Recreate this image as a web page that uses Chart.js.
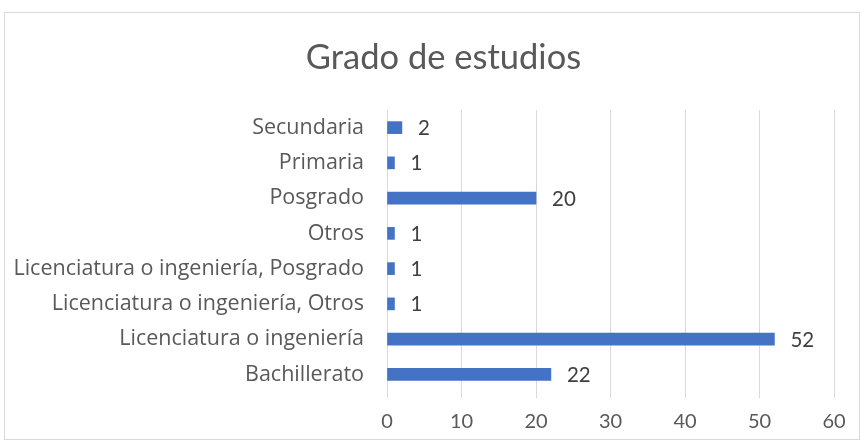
<!DOCTYPE html>
<html>
<head>
<meta charset="utf-8">
<script src="https://cdn.jsdelivr.net/npm/chart.js@4"></script>
<style>
  body { margin: 0; background: #fff; }
  #box { position: absolute; left: 4px; top: 12px; width: 854px; height: 426px; border: 1px solid #d9d9d9; }
</style>
</head>
<body>
<div id="box"><canvas id="gradoChart" width="854" height="426"></canvas></div>
<script>
// Grado de estudios
const categories = ['Secundaria', 'Primaria', 'Posgrado', 'Otros', 'Licenciatura o ingeniería, Posgrado', 'Licenciatura o ingeniería, Otros', 'Licenciatura o ingeniería', 'Bachillerato'];
const counts = [2, 1, 20, 1, 1, 1, 52, 22];
const xTicks = [0, 10, 20, 30, 40, 50, 60];
const chartTitle = 'Grado de estudios';

const FONT = 'Lato';

// values next to each bar
const barLabels = {
    id: 'barLabels',
    afterDatasetsDraw(chart) {
        const ctx = chart.ctx;
        const meta = chart.getDatasetMeta(0);
        ctx.save();
        ctx.font = '20.5px ' + FONT;
        ctx.fillStyle = '#404040';
        ctx.textBaseline = 'middle';
        ctx.textAlign = 'left';
        meta.data.forEach((bar, i) => {
            ctx.fillText(String(counts[i]), bar.x + 16, bar.y + 1);
        });
        ctx.restore();
    }
};

// title sits a bit right of centre in the original, so draw it by hand
const titleText = {
    id: 'titleText',
    afterDraw(chart) {
        const ctx = chart.ctx;
        ctx.save();
        ctx.font = '34.5px ' + FONT;
        ctx.fillStyle = '#595959';
        ctx.textAlign = 'center';
        ctx.textBaseline = 'alphabetic';
        ctx.fillText(chartTitle, 438.5, 56);
        ctx.restore();
    }
};

const ctx = document.getElementById('gradoChart').getContext('2d');
const gradoChart = new Chart(ctx, {
    type: 'bar',
    data: {
        labels: categories,
        datasets: [{
            data: counts,
            backgroundColor: '#4472c4',
            barThickness: 12
        }]
    },
    options: {
        indexAxis: 'y',
        responsive: false,
        animation: false,
        layout: { padding: { left: 0, right: 25, top: 97, bottom: 0 } },
        plugins: {
            legend: { display: false },
            tooltip: { enabled: false },
            title: { display: false }
        },
        scales: {
            x: {
                min: 0,
                max: 60,
                afterBuildTicks: scale => { scale.ticks = xTicks.map(v => ({ value: v })); },
                afterFit: scale => { scale.height = 47; },
                grid: { color: '#d9d9d9', lineWidth: 1, tickLength: 6, drawTicks: true },
                border: { display: false },
                ticks: { color: '#595959', font: { family: FONT, size: 20 }, padding: 12 }
            },
            y: {
                afterFit: scale => { scale.width = 382; },
                grid: { display: false },
                border: { display: true, color: '#d9d9d9' },
                ticks: { color: '#595959', font: { family: 'Open Sans', size: 21.5 }, padding: 15, autoSkip: false }
            }
        }
    },
    plugins: [barLabels, titleText]
});
</script>
</body>
</html>
